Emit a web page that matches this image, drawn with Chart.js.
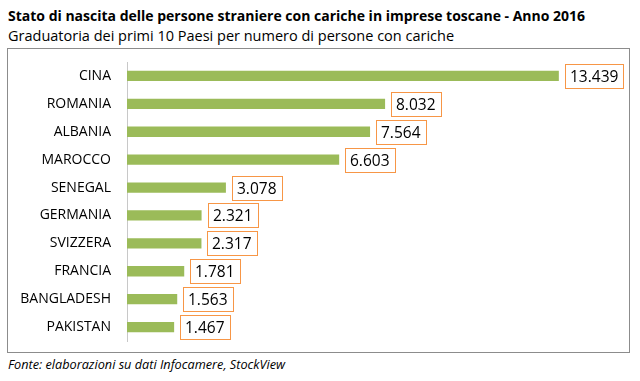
<!DOCTYPE html>
<html><head><meta charset="utf-8">
<script src="https://cdn.jsdelivr.net/npm/chart.js@4/dist/chart.umd.min.js"></script>
<style>
html,body{margin:0;padding:0;background:#fff;}
body{width:640px;height:381px;position:relative;overflow:hidden;font-family:"Open Sans",sans-serif;}
#t1{position:absolute;left:8px;top:6px;font-weight:bold;font-size:14px;white-space:nowrap;color:#000;}
#t2{position:absolute;left:8px;top:26px;font-size:14.5px;white-space:nowrap;color:#000;}
#frame{position:absolute;left:7px;top:48px;width:621px;height:303px;border:1px solid #8c8c8c;}
#foot{position:absolute;left:8px;top:355px;font-style:italic;font-size:12.7px;white-space:nowrap;color:#000;}
canvas{position:absolute;left:0;top:0;}
</style></head>
<body>
<div id="t1">Stato di nascita delle persone straniere con cariche in imprese toscane - Anno 2016</div>
<div id="t2">Graduatoria dei primi 10 Paesi per numero di persone con cariche</div>
<div id="frame"></div>
<div id="foot">Fonte: elaborazioni su dati Infocamere, StockView</div>
<canvas id="c" width="640" height="381"></canvas>
<script>
const categories = ["CINA","ROMANIA","ALBANIA","MAROCCO","SENEGAL","GERMANIA","SVIZZERA","FRANCIA","BANGLADESH","PAKISTAN"];
const values = [13439, 8032, 7564, 6603, 3078, 2321, 2317, 1781, 1563, 1467];

function fmt(v){ return String(v).replace(/\B(?=(\d{3})+(?!\d))/g, "."); }

const labelPlugin = {
  id: 'boxLabels',
  afterDatasetsDraw(chart){
    const ctx = chart.ctx;
    const meta = chart.getDatasetMeta(0);
    ctx.save();
    ctx.font = '15.5px "Open Sans", sans-serif';
    ctx.textBaseline = 'middle';
    meta.data.forEach((el, i) => {
      const txt = fmt(values[i]);
      const w = Math.round(ctx.measureText(txt).width) + 10;
      const h = 24;
      const x = Math.round(el.x) + 6.5, y = Math.round(el.y) - h/2 + 0.5;
      ctx.fillStyle = '#fff';
      ctx.fillRect(x, y, w, h);
      ctx.strokeStyle = '#F79646';
      ctx.lineWidth = 1;
      ctx.strokeRect(x, y, w, h);
      ctx.fillStyle = '#000';
      ctx.fillText(txt, x + 4.5, y + h/2 + 1);
    });
    ctx.restore();
  }
};

new Chart(document.getElementById('c'), {
  type: 'bar',
  data: {
    labels: categories,
    datasets: [{ data: values, backgroundColor: '#9BBB59', borderWidth: 0,
      categoryPercentage: 1, barPercentage: 0.37 }]
  },
  options: {
    indexAxis: 'y',
    responsive: false,
    animation: false,
    events: [],
    layout: { padding: { left: 0, top: 62, right: 31, bottom: 40 } },
    plugins: { legend: { display: false }, tooltip: { enabled: false } },
    scales: {
      x: { display: false, min: 0, max: 15000 },
      y: {
        grid: { display: false, drawTicks: false },
        border: { display: true, color: '#c8c8c8', width: 1 },
        ticks: { color: '#000', padding: 16, font: { family: '"Open Sans", sans-serif', size: 14 } },
        afterFit(scale){ scale.width = 127; }
      }
    }
  },
  plugins: [labelPlugin]
});
</script>
</body></html>
